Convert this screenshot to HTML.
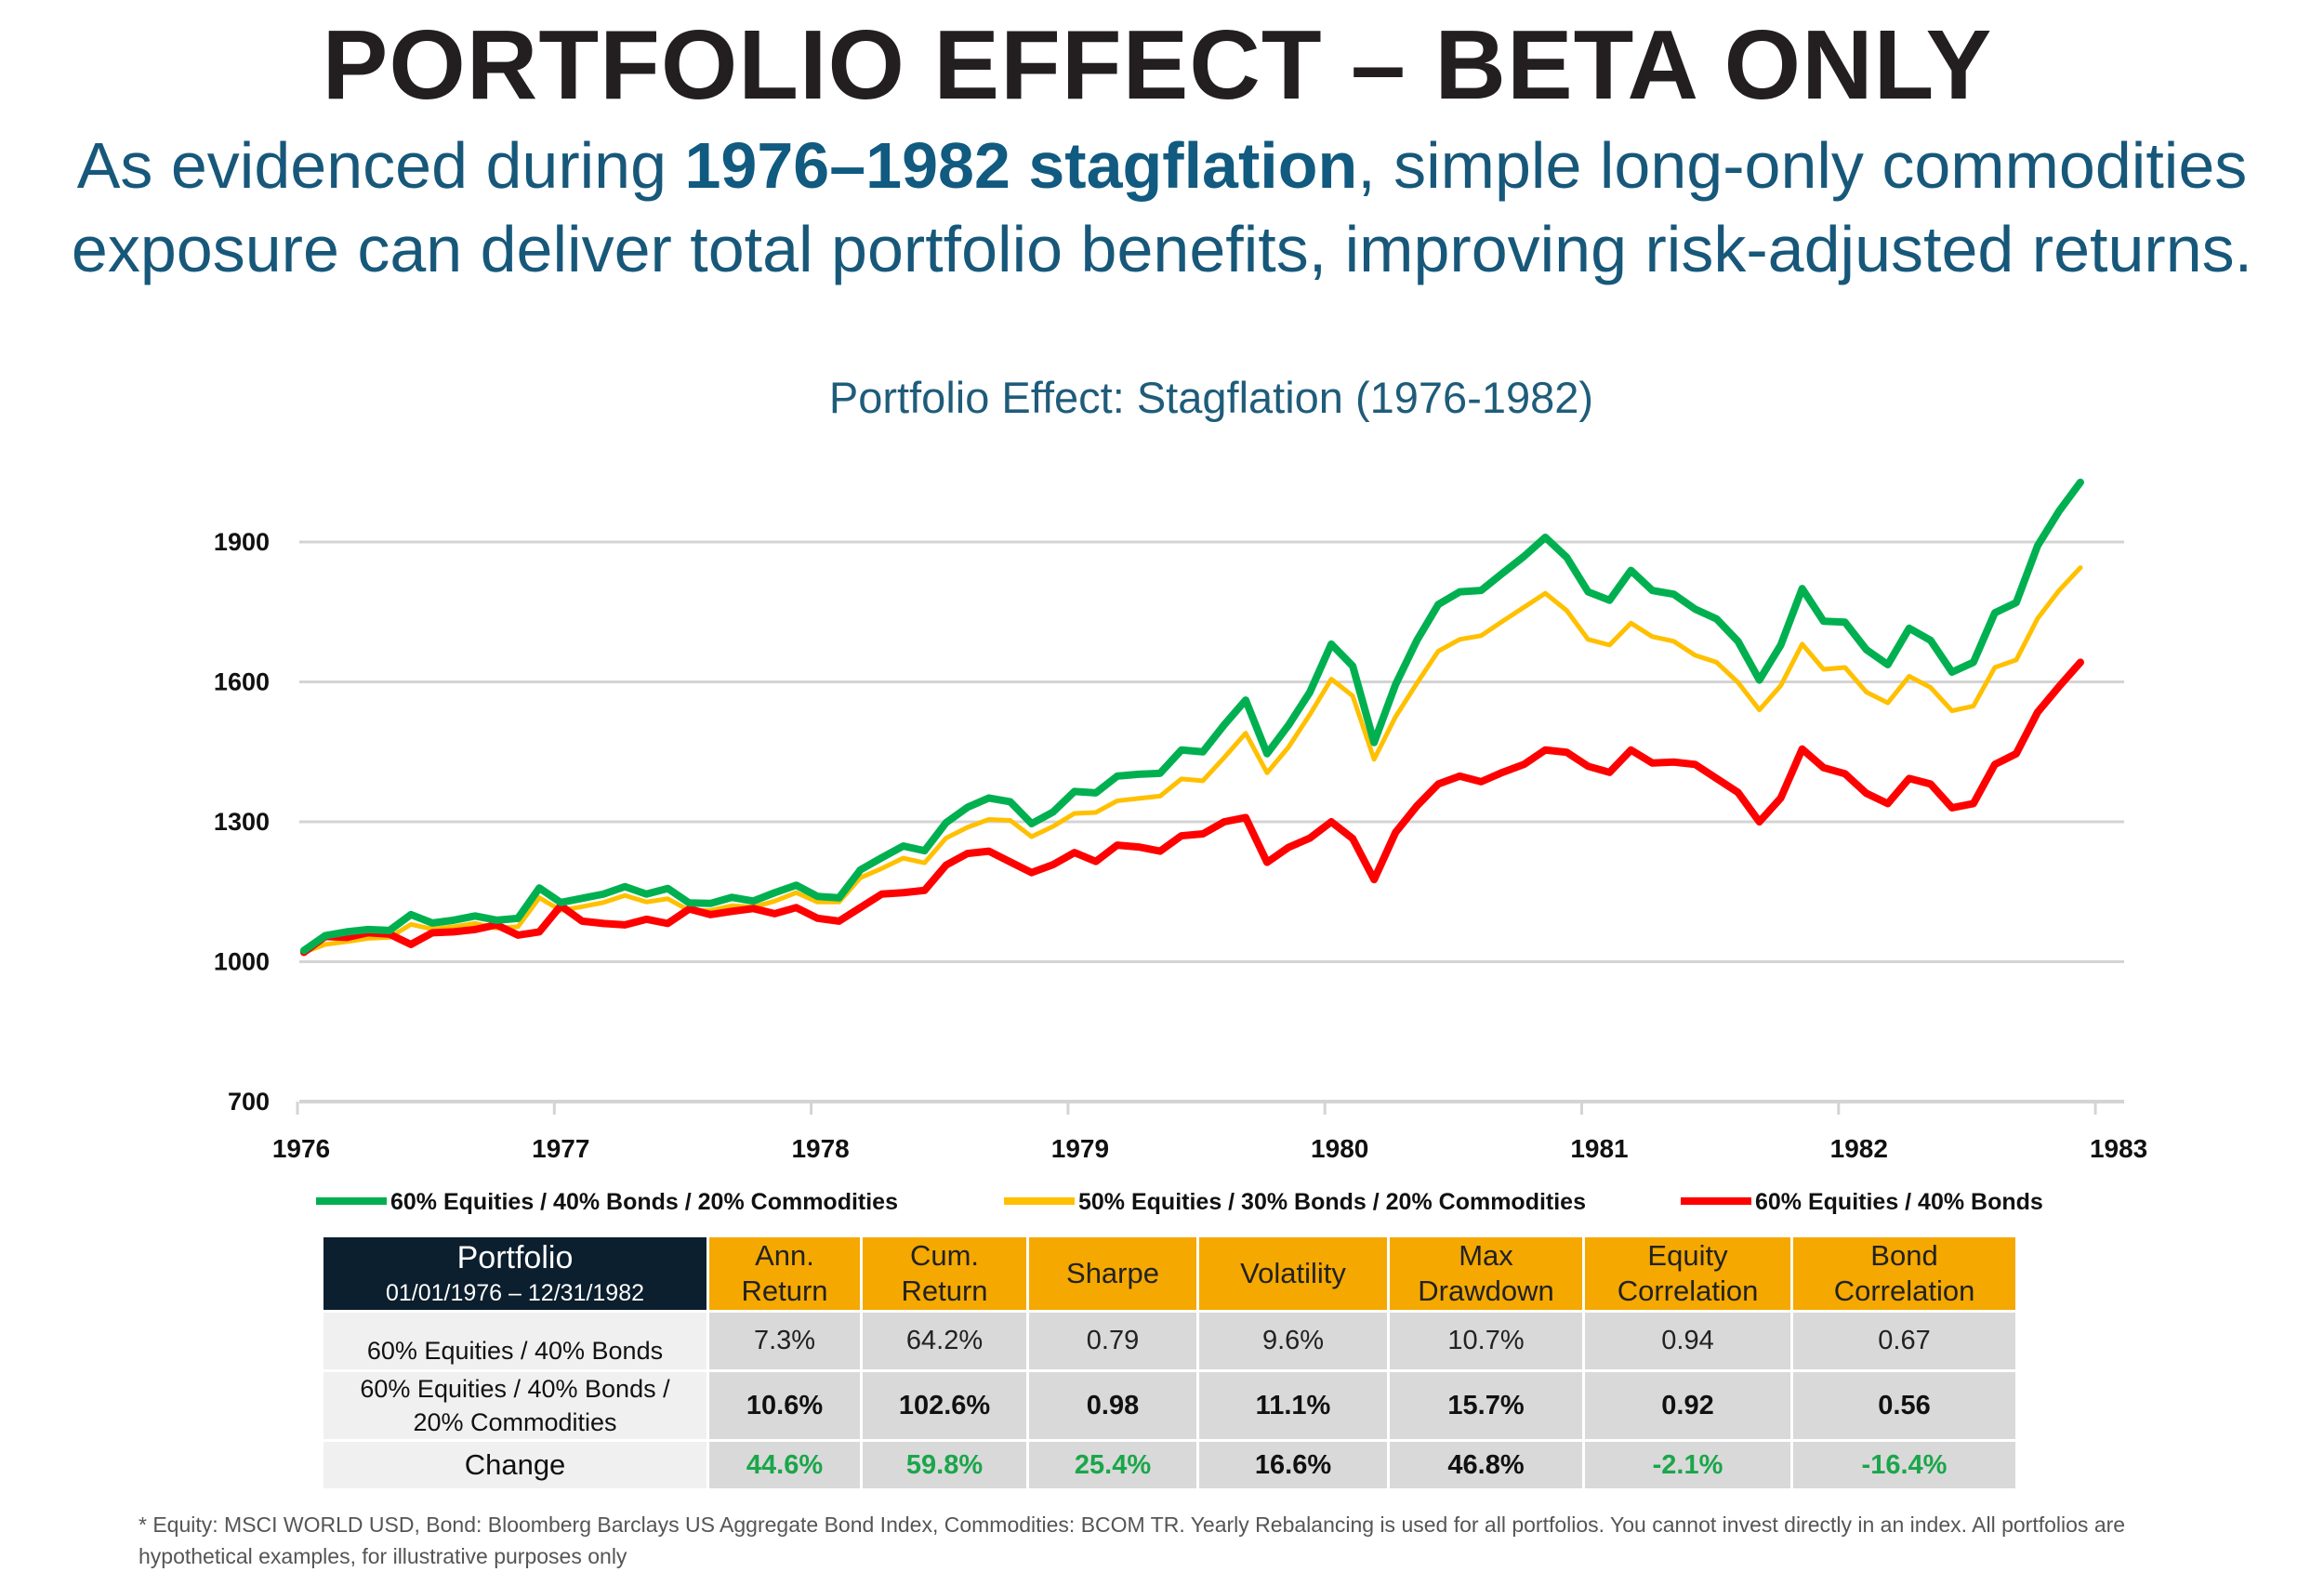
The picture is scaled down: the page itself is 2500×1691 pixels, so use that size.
<!DOCTYPE html>
<html><head><meta charset="utf-8">
<style>
body{margin:0;width:2500px;height:1688px;background:#fff;position:relative;overflow:hidden;font-family:"Liberation Sans",sans-serif}
.abs{position:absolute}
#title{left:0;width:2490px;top:10px;text-align:center;font-size:106px;font-weight:bold;color:#231f20;letter-spacing:1px}
.sub{left:0;width:2500px;text-align:center;font-size:70px;color:#17587a}
#ctitle{left:0;width:2606px;top:400px;text-align:center;font-size:47px;color:#1f5c7a}
table{position:absolute;left:345px;top:1328px;border-collapse:collapse;font-size:29px;text-align:center}
td{border:3px solid #fff;padding:0;background:#d9d9d9;color:#222}
td.h{background:#f5a800;color:#222;font-size:31px;line-height:38px}
td.p{background:#0b1f2e;color:#fff}
td.f{background:#f0f0f0;color:#111}
.b{font-weight:bold;color:#111}
.g{font-weight:bold;color:#1aa64a}
#foot{left:149px;top:1623px;width:2260px;font-size:23px;color:#555;line-height:34px}
</style></head><body>
<div id="title" class="abs">PORTFOLIO EFFECT – BETA ONLY</div>
<div class="abs sub" style="top:138px">As evidenced during <b style="color:#115a80">1976–1982 stagflation</b>, simple long-only commodities</div>
<div class="abs sub" style="top:228px">exposure can deliver total portfolio benefits, improving risk-adjusted returns.</div>
<div id="ctitle" class="abs">Portfolio Effect: Stagflation (1976-1982)</div>
<svg class="abs" style="left:0;top:0" width="2500" height="1688">
<g id="grid"></g><g id="lines"></g><g id="legend"></g>
</svg>
<table>
<tr style="height:81px">
<td class="p" style="width:412px"><div style="font-size:34px">Portfolio</div><div style="font-size:25px;margin-top:4px">01/01/1976 – 12/31/1982</div></td>
<td class="h" style="width:162px">Ann.<br>Return</td>
<td class="h" style="width:176px">Cum.<br>Return</td>
<td class="h" style="width:180px">Sharpe</td>
<td class="h" style="width:202px">Volatility</td>
<td class="h" style="width:207px">Max<br>Drawdown</td>
<td class="h" style="width:221px">Equity<br>Correlation</td>
<td class="h" style="width:239px">Bond<br>Correlation</td>
</tr>
<tr style="height:64px">
<td class="f" style="vertical-align:bottom;padding-bottom:4px;font-size:27px">60% Equities / 40% Bonds</td>
<td>7.3%</td><td>64.2%</td><td>0.79</td><td>9.6%</td><td>10.7%</td><td>0.94</td><td>0.67</td></tr>
<tr style="height:72px">
<td class="f" style="font-size:27px;line-height:36px">60% Equities / 40% Bonds /<br>20% Commodities</td>
<td class="b">10.6%</td><td class="b">102.6%</td><td class="b">0.98</td><td class="b">11.1%</td><td class="b">15.7%</td><td class="b">0.92</td><td class="b">0.56</td></tr>
<tr style="height:53px">
<td class="f" style="font-size:31px">Change</td>
<td class="g">44.6%</td><td class="g">59.8%</td><td class="g">25.4%</td><td class="b">16.6%</td><td class="b">46.8%</td><td class="g">-2.1%</td><td class="g">-16.4%</td></tr>
</table>
<div id="foot" class="abs">* Equity: MSCI WORLD USD, Bond: Bloomberg Barclays US Aggregate Bond Index, Commodities: BCOM TR. Yearly Rebalancing is used for all portfolios. You cannot invest directly in an index. All portfolios are hypothetical examples, for illustrative purposes only</div>
<script>
const yTicks=[700,1000,1300,1600,1900];
const xTicks=["1976","1977","1978","1979","1980","1981","1982","1983"];
const seriesNames=["60% Equities / 40% Bonds / 20% Commodities","50% Equities / 30% Bonds / 20% Commodities","60% Equities / 40% Bonds"];
const green=[1024,1056,1064,1069,1067,1101,1083,1089,1098,1089,1093,1158,1127,1136,1145,1161,1145,1157,1126,1125,1138,1130,1148,1164,1140,1137,1197,1223,1248,1238,1298,1331,1351,1343,1296,1321,1365,1362,1398,1402,1404,1454,1450,1508,1561,1446,1507,1578,
1681,1634,1470,1594,1689,1766,1793,1796,1833,1869,1910,1867,1793,1775,1839,1796,1788,1756,1735,1687,1604,1679,1800,1730,1728,1669,1637,1715,1689,1621,1642,1748,1770,1892,1966,2028];
const yellow=[1020,1037,1043,1050,1052,1080,1070,1075,1082,1072,1075,1137,1110,1118,1127,1142,1128,1135,1110,1110,1120,1117,1130,1148,1128,1128,1180,1200,1222,1212,1265,1288,1305,1303,1268,1290,1318,1320,1345,1350,1355,1392,1388,1438,1490,1405,1460,1530,
1606,1570,1434,1525,1597,1666,1691,1699,1730,1760,1790,1753,1691,1679,1726,1697,1687,1657,1642,1599,1540,1592,1681,1627,1631,1578,1555,1612,1588,1538,1548,1631,1647,1736,1796,1845];
const red=[1020,1054,1052,1062,1059,1037,1062,1064,1069,1079,1057,1064,1120,1087,1082,1079,1091,1082,1113,1101,1108,1114,1103,1116,1093,1087,1116,1145,1148,1153,1207,1232,1237,1214,1191,1208,1234,1215,1250,1246,1237,1270,1274,1300,1309,1213,1245,1265,
1300,1264,1176,1277,1334,1381,1398,1386,1406,1423,1454,1449,1419,1406,1454,1426,1428,1423,1393,1363,1300,1351,1456,1416,1403,1361,1339,1393,1381,1330,1339,1423,1446,1535,1590,1642];
const NS="http://www.w3.org/2000/svg";
const X0=320,YEARPX=276.3,Y700=1185,PER=602/1200;
function yS(v){return Y700-(v-700)*PER;}
function xS(i){return X0+(i+0.3)*YEARPX/12;}
function xYear(k){return X0+k*YEARPX;}
function mk(tag,attrs,parent){const e=document.createElementNS(NS,tag);for(const k in attrs)e.setAttribute(k,attrs[k]);parent.appendChild(e);return e;}
const grid=document.getElementById('grid');
yTicks.forEach(t=>{
  const l=mk('line',{x1:322,x2:2285,y1:yS(t),y2:yS(t),stroke:'#d4d4d4','stroke-width':t===700?4:3},grid);
  
  
  const tx=mk('text',{x:290,y:yS(t)+9,'text-anchor':'end','font-size':27,'font-weight':'bold',fill:'#111'},grid);
  tx.textContent=t;
  
  
});
xTicks.forEach((t,k)=>{
  const l=mk('line',{x1:xYear(k),x2:xYear(k),y1:Y700,y2:Y700+14,stroke:'#d4d4d4','stroke-width':3},grid);
  
  
  const tx=mk('text',{x:xYear(k)+4+k*3,y:1245,'text-anchor':'middle','font-size':28,'font-weight':'bold',fill:'#111'},grid);
  tx.textContent=t;
  
  
});
const lines=document.getElementById('lines');
const defs=[[yellow,'#ffc000',5,'series-50-30-20'],[red,'#ff0000',8,'series-60-40'],[green,'#00b050',8,'series-60-40-20']];
defs.forEach(d=>{
  const p=mk('polyline',{points:d[0].map((v,i)=>xS(i)+','+yS(v)).join(' '),fill:'none',stroke:d[1],'stroke-width':d[2],'stroke-linejoin':'round','stroke-linecap':'round'},lines);
  
  
});
const leg=document.getElementById('legend');
const legItems=[[340,'#00b050',seriesNames[0]],[1080,'#ffc000',seriesNames[1]],[1808,'#ff0000',seriesNames[2]]];
legItems.forEach(li=>{
  const g=mk('g',{},leg);
  
  
  mk('line',{x1:li[0],x2:li[0]+76,y1:1292,y2:1292,stroke:li[1],'stroke-width':8},g);
  const t=mk('text',{x:li[0]+80,y:1301,'font-size':25,'font-weight':'bold',fill:'#111'},g);
  t.textContent=li[2];
});
</script>
</body></html>
